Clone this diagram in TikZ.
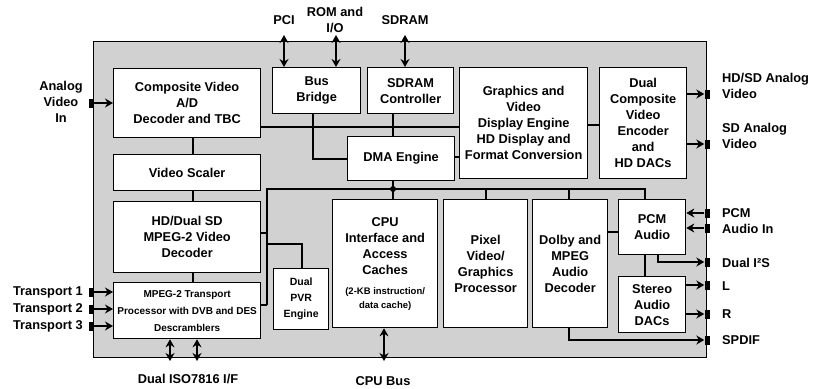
\documentclass[tikz,border=0pt]{standalone}
\usepackage{fontspec}
\setmainfont{Liberation Sans}
\usetikzlibrary{arrows.meta,calc}
\newcommand\smalltxt{\fontsize{10}{14}\selectfont\bfseries}
\newcommand\tinytxt{\fontsize{9.5}{13}\selectfont\bfseries}
\begin{document}
\begin{tikzpicture}[x=1pt,y=-1pt,
  every node/.style={font=\fontsize{12.8}{16}\selectfont\bfseries},
  chip/.style={draw=black,line width=1.4pt,fill=black!18,inner sep=0pt,anchor=north west},
  box/.style={draw=black,line width=1.3pt,fill=white,inner sep=0pt,anchor=north west,align=center},
  conn/.style={line width=1.1pt},
  arr/.style={line width=1.2pt,-{Stealth[length=8pt,width=9pt]}},
  biarr/.style={line width=1.2pt,{Stealth[length=8pt,width=9pt]}-{Stealth[length=8pt,width=9pt]}},
  portblk/.style={fill=black,inner sep=0pt,minimum width=5pt,minimum height=9pt},
  lbl/.style={inner sep=0pt,align=center},
]
\useasboundingbox (0,0) rectangle (813,388);

% chip outline
\node[chip,minimum width=613pt,minimum height=316pt] (chip) at (93,41) {};

% functional blocks
\node[box,minimum width=147pt,minimum height=69pt] (cvd) at (113,68) {Composite Video\\A/D\\Decoder and TBC};
\node[box,minimum width=147pt,minimum height=36pt] (vs) at (113,154) {Video Scaler};
\node[box,minimum width=147pt,minimum height=71pt] (hdd) at (113,201) {HD/Dual SD\\MPEG-2 Video\\Decoder};
\node[box,minimum width=147pt,minimum height=56pt] (tp) at (113,282)
  {\smalltxt MPEG-2 Transport\\[1pt]\smalltxt Processor with DVB and DES\\[1pt]\smalltxt Descramblers};
\node[box,minimum width=88pt,minimum height=46pt] (bb) at (272,67) {Bus\\Bridge};
\node[box,minimum width=86pt,minimum height=46pt] (sdc) at (367,67) {SDRAM\\Controller};
\node[box,minimum width=107pt,minimum height=44pt] (dma) at (347,136) {DMA Engine};
\node[box,minimum width=128pt,minimum height=111pt] (gfx) at (459,67)
  {Graphics and\\Video\\Display Engine\\HD Display and\\Format Conversion};
\node[box,minimum width=87pt,minimum height=111pt] (enc) at (599,67)
  {Dual\\Composite\\Video\\Encoder\\and\\HD DACs};
\node[box,minimum width=55pt,minimum height=61pt] (pvr) at (273,268)
  {\fontsize{10.5}{15}\selectfont\bfseries Dual\\\fontsize{10.5}{15}\selectfont\bfseries PVR\\\fontsize{10.5}{15}\selectfont\bfseries Engine};
\node[box,minimum width=105pt,minimum height=128pt] (cpu) at (332,199)
  {CPU\\Interface and\\Access\\Caches\\[4pt]\tinytxt (2-KB instruction/\\[-2pt]\tinytxt data cache)};
\node[box,minimum width=84pt,minimum height=128pt] (pix) at (443,199) {Pixel\\Video/\\Graphics\\Processor};
\node[box,minimum width=75pt,minimum height=128pt] (dol) at (532,199) {Dolby and\\MPEG\\Audio\\Decoder};
\node[box,minimum width=67pt,minimum height=55pt] (pcm) at (618,199) {PCM\\Audio};
\node[box,minimum width=67pt,minimum height=56pt] (dac) at (618,276) {Stereo\\Audio\\DACs};

% helper positions for connector runs
\coordinate (xv) at (193,0);
\coordinate (yh) at (0,127);
\coordinate (ye) at (0,125);
\coordinate (yg) at (0,157);
\coordinate (xb) at (313,159);
\coordinate (bL) at (267,189);
\coordinate (bJ) at (393,189);
\coordinate (bR) at (645,189);
\coordinate (xx) at (486,189);
\coordinate (xd) at (569,189);
\coordinate (bT) at (267,305);
\coordinate (bH) at (267,233);
\coordinate (bP) at (267,244);
\coordinate (xp) at (302,244);
\coordinate (yd) at (0,232);
\coordinate (xi) at (658,0);

% internal connections
\draw[conn] (cvd.south -| xv) -- (vs.north -| xv);
\draw[conn] (vs.south -| xv) -- (hdd.north -| xv);
\draw[conn] (hdd.south -| xv) -- (tp.north -| xv);
\draw[conn] (cvd.east |- yh) -- (gfx.west |- yh);
\draw[conn] (gfx.east |- ye) -- (enc.west |- ye);
\draw[conn] (bb.south -| xb) |- (dma.west |- xb);
\draw[conn] (sdc.south -| bJ) -- (dma.north -| bJ);
\draw[conn] (dma.east |- yg) -- (gfx.west |- yg);
\draw[conn] (dma.south -| bJ) -- (cpu.north -| bJ);
\draw[conn] (bT) -- (bL) -- (bR) -- (pcm.north -| bR);
\draw[conn] (bT) -- (tp.east |- bT);
\draw[conn] (hdd.east |- bH) -- (bH);
\draw[conn] (bP) -| (pvr.north -| xp);
\draw[conn] (xx) -- (pix.north -| xx);
\draw[conn] (xd) -- (dol.north -| xd);
\draw[conn] (dol.east |- yd) -- (pcm.west |- yd);
\draw[conn] (pcm.south -| bR) -- (dac.north -| bR);
\fill (bJ) circle (3pt);

% pins on the chip edge
\node[portblk] (pAV) at (91,103) {};
\node[portblk] (pT1) at (91,292) {};
\node[portblk] (pT2) at (91,309) {};
\node[portblk] (pT3) at (91,326) {};
\node[portblk] (pHD) at (707,94) {};
\node[portblk] (pSD) at (707,144) {};
\node[portblk] (pPa) at (707,213) {};
\node[portblk] (pPb) at (707,228) {};
\node[portblk] (pI2S) at (707,262) {};
\node[portblk] (pL) at (707,285) {};
\node[portblk] (pR) at (707,314) {};
\node[portblk] (pSP) at (707,340) {};

\coordinate (tPCI) at (284,35);
\coordinate (tROM) at (336,35);
\coordinate (tSD) at (405,35);
\coordinate (cb) at (384,361);
\coordinate (iso1) at (170,361);
\coordinate (iso2) at (197,361);

% external signals
\draw[arr] (pAV.east) -- (cvd.west |- pAV);
\draw[arr] (pT1.east) -- (tp.west |- pT1);
\draw[arr] (pT2.east) -- (tp.west |- pT2);
\draw[arr] (pT3.east) -- (tp.west |- pT3);
\draw[arr] (enc.east |- pHD) -- (pHD.west);
\draw[arr] (enc.east |- pSD) -- (pSD.west);
\draw[arr] (pPa.west) -- (pcm.east |- pPa);
\draw[arr] (pPb.west) -- (pcm.east |- pPb);
\draw[arr] (pcm.south -| xi) |- (pI2S.west);
\draw[arr] (dac.east |- pL) -- (pL.west);
\draw[arr] (dac.east |- pR) -- (pR.west);
\draw[arr] (dol.south -| xd) |- (pSP.west);
\draw[biarr] (tPCI) -- (bb.north -| tPCI);
\draw[biarr] (tROM) -- (bb.north -| tROM);
\draw[biarr] (tSD) -- (sdc.north -| tSD);
\draw[biarr] (cpu.south -| cb) -- (cb);
\draw[biarr] (tp.south -| iso1) -- (iso1);
\draw[biarr] (tp.south -| iso2) -- (iso2);

% signal labels
\node[lbl] (lAV) at (61,102) {Analog\\Video\\In};
\node[lbl,anchor=east] (lT1) at (83,292) {Transport 1};
\node[lbl,anchor=east] (lT2) at (83,309) {Transport 2};
\node[lbl,anchor=east] (lT3) at (83,326) {Transport 3};
\node[lbl] (lPCI) at (284,20) {PCI};
\node[lbl] (lROM) at (335,20) {ROM and\\I/O};
\node[lbl] (lSD) at (405,20) {SDRAM};
\node[lbl,anchor=west,align=left] (lHD) at (722,86) {HD/SD Analog\\Video};
\node[lbl,anchor=west,align=left] (lSDA) at (722,136) {SD Analog\\Video};
\node[lbl,anchor=west,align=left] (lPCM) at (722,221) {PCM\\Audio In};
\node[lbl,anchor=west] (lI2S) at (722,263) {Dual I²S};
\node[lbl,anchor=west] (lL) at (722,286) {L};
\node[lbl,anchor=west] (lR) at (722,314) {R};
\node[lbl,anchor=west] (lSP) at (722,340) {SPDIF};
\node[lbl] (lISO) at (188,379) {Dual ISO7816 I/F};
\node[lbl] (lCPU) at (383,381) {CPU Bus};
\end{tikzpicture}
\end{document}
